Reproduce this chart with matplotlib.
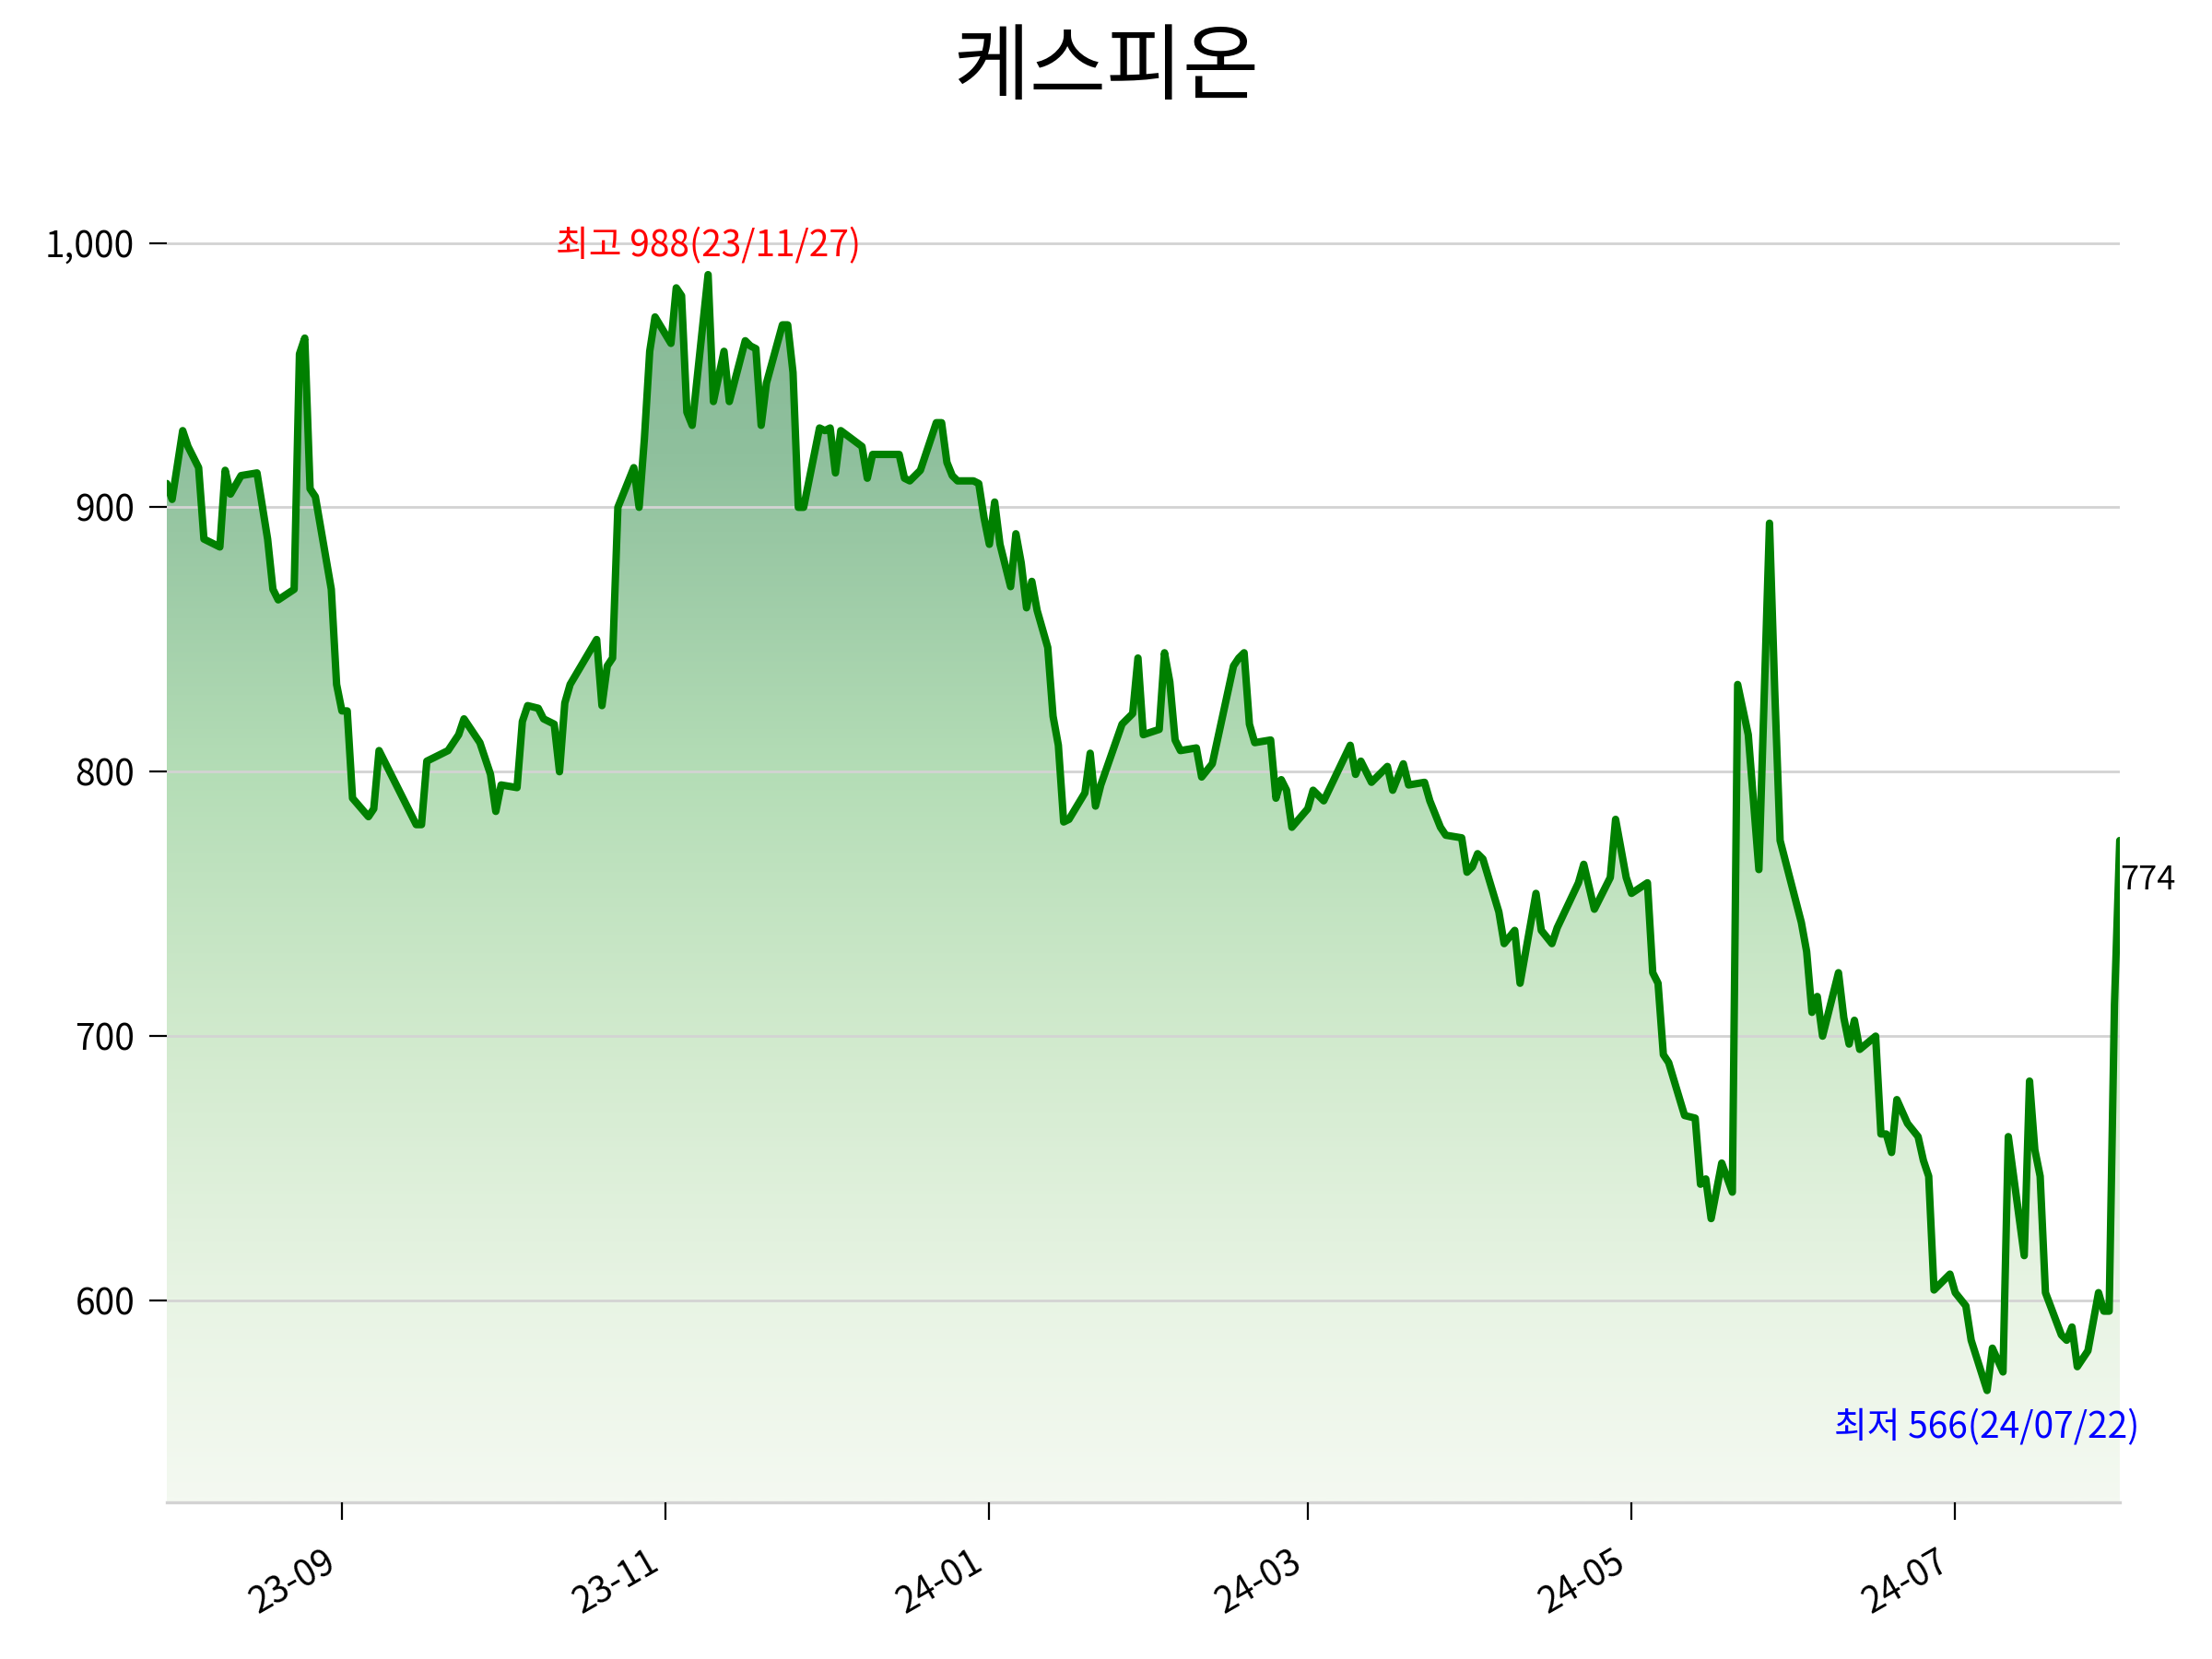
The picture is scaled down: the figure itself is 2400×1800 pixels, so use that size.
import numpy as np
import pandas as pd
import matplotlib
matplotlib.use('Agg')
import matplotlib.pyplot as plt
import matplotlib.dates as mdates
from matplotlib.colors import LinearSegmentedColormap
from matplotlib.ticker import FuncFormatter, FixedLocator

plt.rcParams['font.family'] = ['Noto Sans CJK KR', 'DejaVu Sans']

title = '케스피온'

dates_str = [
    '2023-07-30', '2023-07-31', '2023-08-02', '2023-08-03', '2023-08-05', '2023-08-06',
    '2023-08-09', '2023-08-10', '2023-08-11', '2023-08-13', '2023-08-16', '2023-08-18',
    '2023-08-19', '2023-08-20', '2023-08-23', '2023-08-24', '2023-08-25', '2023-08-26',
    '2023-08-27', '2023-08-30', '2023-08-31', '2023-09-01', '2023-09-02', '2023-09-03',
    '2023-09-06', '2023-09-07', '2023-09-08', '2023-09-15', '2023-09-16', '2023-09-17',
    '2023-09-21', '2023-09-23', '2023-09-24', '2023-09-27', '2023-09-29', '2023-09-30',
    '2023-10-01', '2023-10-04', '2023-10-05', '2023-10-06', '2023-10-08', '2023-10-09',
    '2023-10-11', '2023-10-12', '2023-10-13', '2023-10-14', '2023-10-19', '2023-10-20',
    '2023-10-21', '2023-10-22', '2023-10-23', '2023-10-26', '2023-10-27', '2023-10-28',
    '2023-10-29', '2023-10-30', '2023-11-02', '2023-11-03', '2023-11-04', '2023-11-05',
    '2023-11-06', '2023-11-09', '2023-11-10', '2023-11-12', '2023-11-13', '2023-11-16',
    '2023-11-17', '2023-11-18', '2023-11-19', '2023-11-20', '2023-11-23', '2023-11-24',
    '2023-11-25', '2023-11-26', '2023-11-27', '2023-11-30', '2023-12-01', '2023-12-02',
    '2023-12-03', '2023-12-04', '2023-12-08', '2023-12-09', '2023-12-10', '2023-12-15',
    '2023-12-16', '2023-12-17', '2023-12-19', '2023-12-22', '2023-12-23', '2023-12-24',
    '2023-12-25', '2023-12-26', '2023-12-29', '2023-12-30', '2023-12-31', '2024-01-01',
    '2024-01-02', '2024-01-03', '2024-01-05', '2024-01-06', '2024-01-07', '2024-01-08',
    '2024-01-09', '2024-01-10', '2024-01-12', '2024-01-13', '2024-01-14', '2024-01-15',
    '2024-01-16', '2024-01-19', '2024-01-20', '2024-01-21', '2024-01-22', '2024-01-26',
    '2024-01-28', '2024-01-29', '2024-01-30', '2024-02-02', '2024-02-03', '2024-02-04',
    '2024-02-05', '2024-02-06', '2024-02-09', '2024-02-10', '2024-02-12', '2024-02-16',
    '2024-02-17', '2024-02-18', '2024-02-19', '2024-02-20', '2024-02-23', '2024-02-24',
    '2024-02-25', '2024-02-26', '2024-02-27', '2024-03-01', '2024-03-02', '2024-03-04',
    '2024-03-09', '2024-03-10', '2024-03-11', '2024-03-13', '2024-03-16', '2024-03-17',
    '2024-03-19', '2024-03-20', '2024-03-23', '2024-03-24', '2024-03-26', '2024-03-27',
    '2024-03-30', '2024-03-31', '2024-04-01', '2024-04-02', '2024-04-03', '2024-04-06',
    '2024-04-07', '2024-04-09', '2024-04-10', '2024-04-13', '2024-04-14', '2024-04-16',
    '2024-04-17', '2024-04-21', '2024-04-22', '2024-04-24', '2024-04-27', '2024-04-28',
    '2024-04-30', '2024-05-01', '2024-05-04', '2024-05-05', '2024-05-06', '2024-05-07',
    '2024-05-08', '2024-05-11', '2024-05-13', '2024-05-14', '2024-05-15', '2024-05-16',
    '2024-05-18', '2024-05-20', '2024-05-21', '2024-05-23', '2024-05-25', '2024-05-27',
    '2024-05-28', '2024-05-29', '2024-06-02', '2024-06-03', '2024-06-04', '2024-06-05',
    '2024-06-06', '2024-06-09', '2024-06-10', '2024-06-11', '2024-06-12', '2024-06-13',
    '2024-06-16', '2024-06-17', '2024-06-18', '2024-06-19', '2024-06-20', '2024-06-22',
    '2024-06-24', '2024-06-25', '2024-06-26', '2024-06-27', '2024-06-30', '2024-07-01',
    '2024-07-03', '2024-07-04', '2024-07-07', '2024-07-08', '2024-07-10', '2024-07-11',
    '2024-07-14', '2024-07-15', '2024-07-16', '2024-07-17', '2024-07-18', '2024-07-21',
    '2024-07-22', '2024-07-23', '2024-07-24', '2024-07-26', '2024-07-28', '2024-07-29',
    '2024-07-30', '2024-07-31', '2024-08-01',
]

prices = [
    909, 903, 929, 923, 915, 888,
    885, 914, 905, 912, 913, 888,
    869, 865, 869, 958, 964, 907,
    904, 869, 833, 823, 823, 790,
    783, 786, 808, 780, 780, 804,
    808, 814, 820, 811, 799, 785,
    795, 794, 819, 825, 824, 820,
    818, 800, 826, 833, 850, 825,
    840, 843, 900, 915, 900, 926,
    959, 972, 962, 983, 980, 936,
    931, 988, 940, 959, 940, 963,
    961, 960, 931, 947, 969, 969,
    951, 900, 900, 930, 929, 930,
    913, 929, 923, 911, 920, 920,
    911, 910, 914, 932, 932, 917,
    912, 910, 910, 909, 896, 886,
    902, 886, 870, 890, 879, 862,
    872, 861, 847, 821, 810, 781,
    782, 792, 807, 787, 795, 818,
    822, 843, 814, 816, 845, 834,
    812, 808, 809, 798, 803, 840,
    843, 845, 818, 811, 812, 790,
    797, 793, 779, 786, 793, 789,
    810, 799, 804, 796, 802, 793,
    803, 795, 796, 789, 779, 776,
    775, 762, 764, 769, 767, 747,
    735, 740, 720, 754, 740, 735,
    741, 758, 765, 748, 760, 782,
    760, 754, 758, 724, 720, 693,
    690, 670, 669, 644, 646, 631,
    652, 641, 833, 814, 763, 894,
    830, 774, 743, 732, 709, 715,
    700, 724, 707, 697, 706, 695,
    700, 663, 663, 656, 676, 667,
    662, 653, 647, 604, 610, 603,
    598, 585, 566, 582, 573, 662,
    617, 683, 657, 647, 603, 587,
    585, 590, 575, 581, 603, 596,
    596, 712, 774,
]

high_label_date = '23/11/27'
low_label_date = '24/07/22'

dates = pd.to_datetime(dates_str)
values = np.array(prices, dtype=float)

hi = values.max()
lo = values.min()
hi_i = int(values.argmax())
lo_i = int(values.argmin())
last = values[-1]

fig = plt.figure(figsize=(12, 9), dpi=200)
ax = fig.add_axes([0.0754, 0.0942, 0.8829, 0.8190])

ax.plot(dates, values, color='green', lw=2.9, zorder=4,
        solid_joinstyle='round', solid_capstyle='round')

y0, y1 = lo * 0.925, hi * 1.05
x0, x1 = mdates.date2num(dates[0]), mdates.date2num(dates[-1])

stops = [
    (0.000, (244, 249, 241)),
    (0.165, (232, 244, 228)),
    (0.380, (209, 234, 205)),
    (0.595, (180, 221, 182)),
    (0.854, (143, 192, 157)),
    (1.000, (135, 185, 150)),
]
cmap = LinearSegmentedColormap.from_list(
    'fillgrad', [(p, tuple(c / 255 for c in rgb)) for p, rgb in stops])

yy = np.linspace(y0, y1, 600)
frac = np.clip((yy - y0) / (hi - y0), 0, 1).reshape(-1, 1)
im = ax.imshow(frac, cmap=cmap, vmin=0, vmax=1, extent=[x0, x1, y0, y1],
               origin='lower', aspect='auto', interpolation='bilinear', zorder=1)
poly = ax.fill_between(dates, values, y0, facecolor='none', edgecolor='none', zorder=1)
im.set_clip_path(poly.get_paths()[0], transform=ax.transData)

ax.set_xlim(dates[0], dates[-1])
ax.set_ylim(y0, y1)

ax.set_axisbelow(False)
ax.yaxis.grid(True, color='#d3d3d3', lw=1.0, zorder=2)
ax.xaxis.grid(False)
for s in ['top', 'right', 'left']:
    ax.spines[s].set_visible(False)
ax.spines['bottom'].set_color('#d3d3d3')
ax.spines['bottom'].set_linewidth(1.2)

ax.yaxis.set_major_locator(FixedLocator([600, 700, 800, 900, 1000]))
ax.yaxis.set_major_formatter(FuncFormatter(lambda v, p: f'{v:,.0f}'))
ax.xaxis.set_major_locator(mdates.MonthLocator(bymonth=[1, 3, 5, 7, 9, 11]))
ax.xaxis.set_major_formatter(mdates.DateFormatter('%y-%m'))
ax.tick_params(axis='y', length=7, width=0.8, pad=5.5, labelsize=14)
ax.tick_params(axis='x', length=7, width=0.8, pad=9, labelsize=14)
for lab in ax.get_xticklabels():
    lab.set_rotation(30)
    lab.set_ha('right')

ax.annotate(f'최고 {hi:,.0f}({high_label_date})', xy=(dates[hi_i], hi),
            xytext=(0, 4), textcoords='offset points', ha='center', va='bottom',
            color='red', fontsize=14, zorder=5)
ax.annotate(f'최저 {lo:,.0f}({low_label_date})', xy=(dates[lo_i], lo),
            xytext=(0, -7.5), textcoords='offset points', ha='center', va='top',
            color='blue', fontsize=14, zorder=5, annotation_clip=False)
ax.annotate(f'{last:,.0f}', xy=(dates[-1], last), xytext=(0, -9),
            textcoords='offset points', ha='left', va='top',
            color='black', fontsize=13, zorder=5, annotation_clip=False)

fig.text(0.5, 1 - 101 / 1800, title, ha='center', va='baseline', fontsize=32.5)

fig.savefig('out.png', dpi=200)
